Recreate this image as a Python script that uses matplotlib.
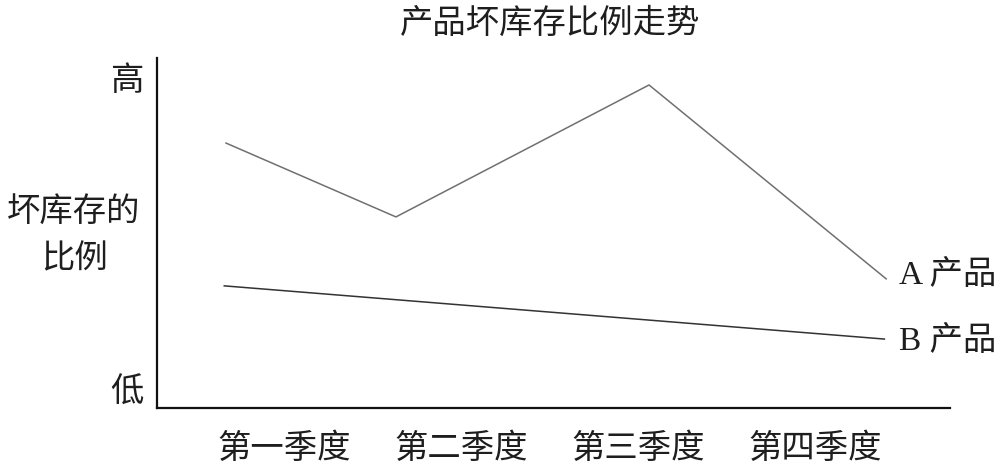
import matplotlib
matplotlib.use("Agg")
import matplotlib.pyplot as plt

plt.rcParams['font.family'] = ['Liberation Serif', 'Noto Sans CJK SC', 'DejaVu Sans']

# Data (relative scale 0-100)
quarters = ["第一季度", "第二季度", "第三季度", "第四季度"]
a_x = [-0.33, 0.63, 2.06, 3.40]
a_y = [75.7, 54.6, 92.3, 36.9]
b_x = [-0.34, 3.39]
b_y = [34.9, 19.7]
y_ticks = [94.3, 5.1]
y_ticklabels = ["高", "低"]

txt = "#1e1e1e"
fig = plt.figure(figsize=(10.02, 4.68), dpi=100)
ax = fig.add_axes([0.1567, 0.1282, 0.948 - 0.1567, 0.876 - 0.1282])

ax.plot(a_x, a_y, color="#707070", lw=1.1)
ax.plot(b_x, b_y, color="#333333", lw=1.1)

ax.set_xlim(-0.72, 3.76)
ax.set_ylim(0, 100)

ax.set_xticks(range(len(quarters)))
ax.set_xticklabels(quarters, fontsize=24, color=txt)
ax.set_yticks(y_ticks)
ax.set_yticklabels(y_ticklabels, fontsize=24, color=txt)
ax.tick_params(axis="y", length=0, pad=10)
ax.tick_params(axis="x", length=0, pad=18)

for s in ["top", "right"]:
    ax.spines[s].set_visible(False)
for s in ["left", "bottom"]:
    ax.spines[s].set_linewidth(1.6)
    ax.spines[s].set_color("#111111")

# end labels
ax.text(a_x[-1] + 0.07, a_y[-1] + 1.0, "A 产品", fontsize=24, color=txt, va="center", ha="left")
ax.text(b_x[-1] + 0.08, b_y[-1] - 0.6, "B 产品", fontsize=24, color=txt, va="center", ha="left")

# y label and title
fig.text(74 / 1002, 1 - 236 / 468, "坏库存的\n比例", fontsize=24, color=txt,
         ha="center", va="center", linespacing=1.75)
fig.text(550 / 1002, 1 - 24 / 468, "产品坏库存比例走势", fontsize=24, color=txt,
         ha="center", va="center")

fig.savefig("out.png", dpi=100, facecolor="white")
